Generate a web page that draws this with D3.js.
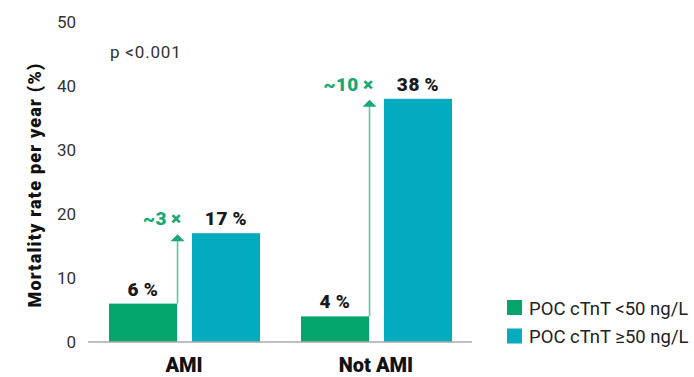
<!DOCTYPE html>
<html>
<head>
<meta charset="utf-8">
<script src="https://cdn.jsdelivr.net/npm/d3@7"></script>
<style>
body { margin: 0; background: #fff; }
text { font-family: Roboto, "Liberation Sans", sans-serif; }
</style>
</head>
<body>
<script>
var width = 694, height = 377;

var groups = ["AMI", "Not AMI"];
var series = ["POC cTnT <50 ng/L", "POC cTnT \u226550 ng/L"];
var lowValues = [6, 4];
var highValues = [17, 38];
var ratios = ["~3\u2009\u00d7", "~10\u2009\u00d7"];
var yTicks = [0, 10, 20, 30, 40, 50];

var colors = d3.scaleOrdinal().domain(series).range(["#05a46b", "#03abbf"]);

var svg = d3.select("body").append("svg")
            .attr("width", width).attr("height", height);

var x0 = d3.scaleBand().domain(groups).range([88, 472]);
var x1 = d3.scaleBand().domain(series).range([21, 172]).paddingInner(0.18);
var y = d3.scaleLinear().domain([0, 50]).range([342, 22]);

// y tick labels
svg.append("g").selectAll("text").data(yTicks).enter().append("text")
   .attr("x", 76).attr("y", function(d){ return y(d); })
   .attr("dy", "0.35em").attr("text-anchor", "end")
   .attr("font-size", 17).attr("fill", "#333")
   .text(function(d){ return d; });

svg.append("text")
   .attr("transform", "translate(41," + (y(25) + 3) + ") rotate(-90)")
   .attr("text-anchor", "middle").attr("font-size", 18).attr("font-weight", 900)
   .attr("letter-spacing", 1.2).attr("fill", "#111")
   .text("Mortality rate per year (%)");

svg.append("text").attr("x", 110).attr("y", 58)
   .attr("font-size", 17).attr("fill", "#333").attr("letter-spacing", 0.8)
   .text("p <0.001");

var data = groups.map(function(g, i){
    return {group: g, values: [
        {key: series[0], value: lowValues[i]},
        {key: series[1], value: highValues[i]}
    ], ratio: ratios[i]};
});

var grp = svg.append("g").selectAll("g").data(data).enter().append("g")
             .attr("transform", function(d){ return "translate(" + x0(d.group) + ",0)"; });

grp.selectAll("rect").data(function(d){ return d.values; }).enter().append("rect")
   .attr("x", function(d){ return x1(d.key); })
   .attr("width", x1.bandwidth())
   .attr("y", function(d){ return y(d.value); })
   .attr("height", function(d){ return y(0) - y(d.value); })
   .attr("fill", function(d){ return colors(d.key); });

grp.selectAll(".val").data(function(d){ return d.values; }).enter().append("text")
   .classed("val", true)
   .attr("x", function(d){ return x1(d.key) + x1.bandwidth() / 2; })
   .attr("y", function(d){ return y(d.value) - 8; })
   .attr("text-anchor", "middle").attr("font-size", 19).attr("font-weight", 900)
   .attr("letter-spacing", 0.6).attr("fill", "#1a1a1a")
   .text(function(d){ return d.value + "\u2009%"; });

// arrows
grp.each(function(d){
    var g = d3.select(this);
    var ax = x1(series[0]) + x1.bandwidth() + 0.5;
    var top = y(d.values[1].value);
    g.append("line").attr("x1", ax).attr("x2", ax)
     .attr("y1", y(d.values[0].value)).attr("y2", top + 6)
     .attr("stroke", "#5cc79c").attr("stroke-width", 1.6);
    g.append("path")
     .attr("d", "M" + (ax - 7) + "," + (top + 8) + "L" + ax + "," + (top + 1) + "L" + (ax + 7) + "," + (top + 8) + "Z")
     .attr("fill", "#18a874");
    g.append("text").attr("x", ax + 4).attr("y", top - 8)
     .attr("text-anchor", "end").attr("font-size", 19).attr("font-weight", 900)
     .attr("letter-spacing", 0.4).attr("fill", "#18a874").text(d.ratio);
});

// baseline
svg.append("line").attr("x1", 88).attr("x2", 472)
   .attr("y1", y(0)).attr("y2", y(0))
   .attr("stroke", "#aaa").attr("stroke-width", 1.5);

svg.append("g").selectAll("text").data(groups).enter().append("text")
   .attr("x", function(d){ return x0(d) + x0.bandwidth() / 2; })
   .attr("y", 372).attr("text-anchor", "middle")
   .attr("font-size", 20).attr("font-weight", 900).attr("fill", "#111")
   .text(function(d){ return d; });

// legend
var legend = svg.append("g").selectAll("g").data(series).enter().append("g")
                .attr("transform", function(d, i){ return "translate(507," + (300 + i * 28.5) + ")"; });
legend.append("rect").attr("width", 15).attr("height", 15)
      .attr("fill", function(d){ return colors(d); });
legend.append("text").attr("x", 22).attr("y", 14.5)
      .attr("font-size", 18.5).attr("fill", "#222")
      .text(function(d){ return d; });
</script>
</body>
</html>
